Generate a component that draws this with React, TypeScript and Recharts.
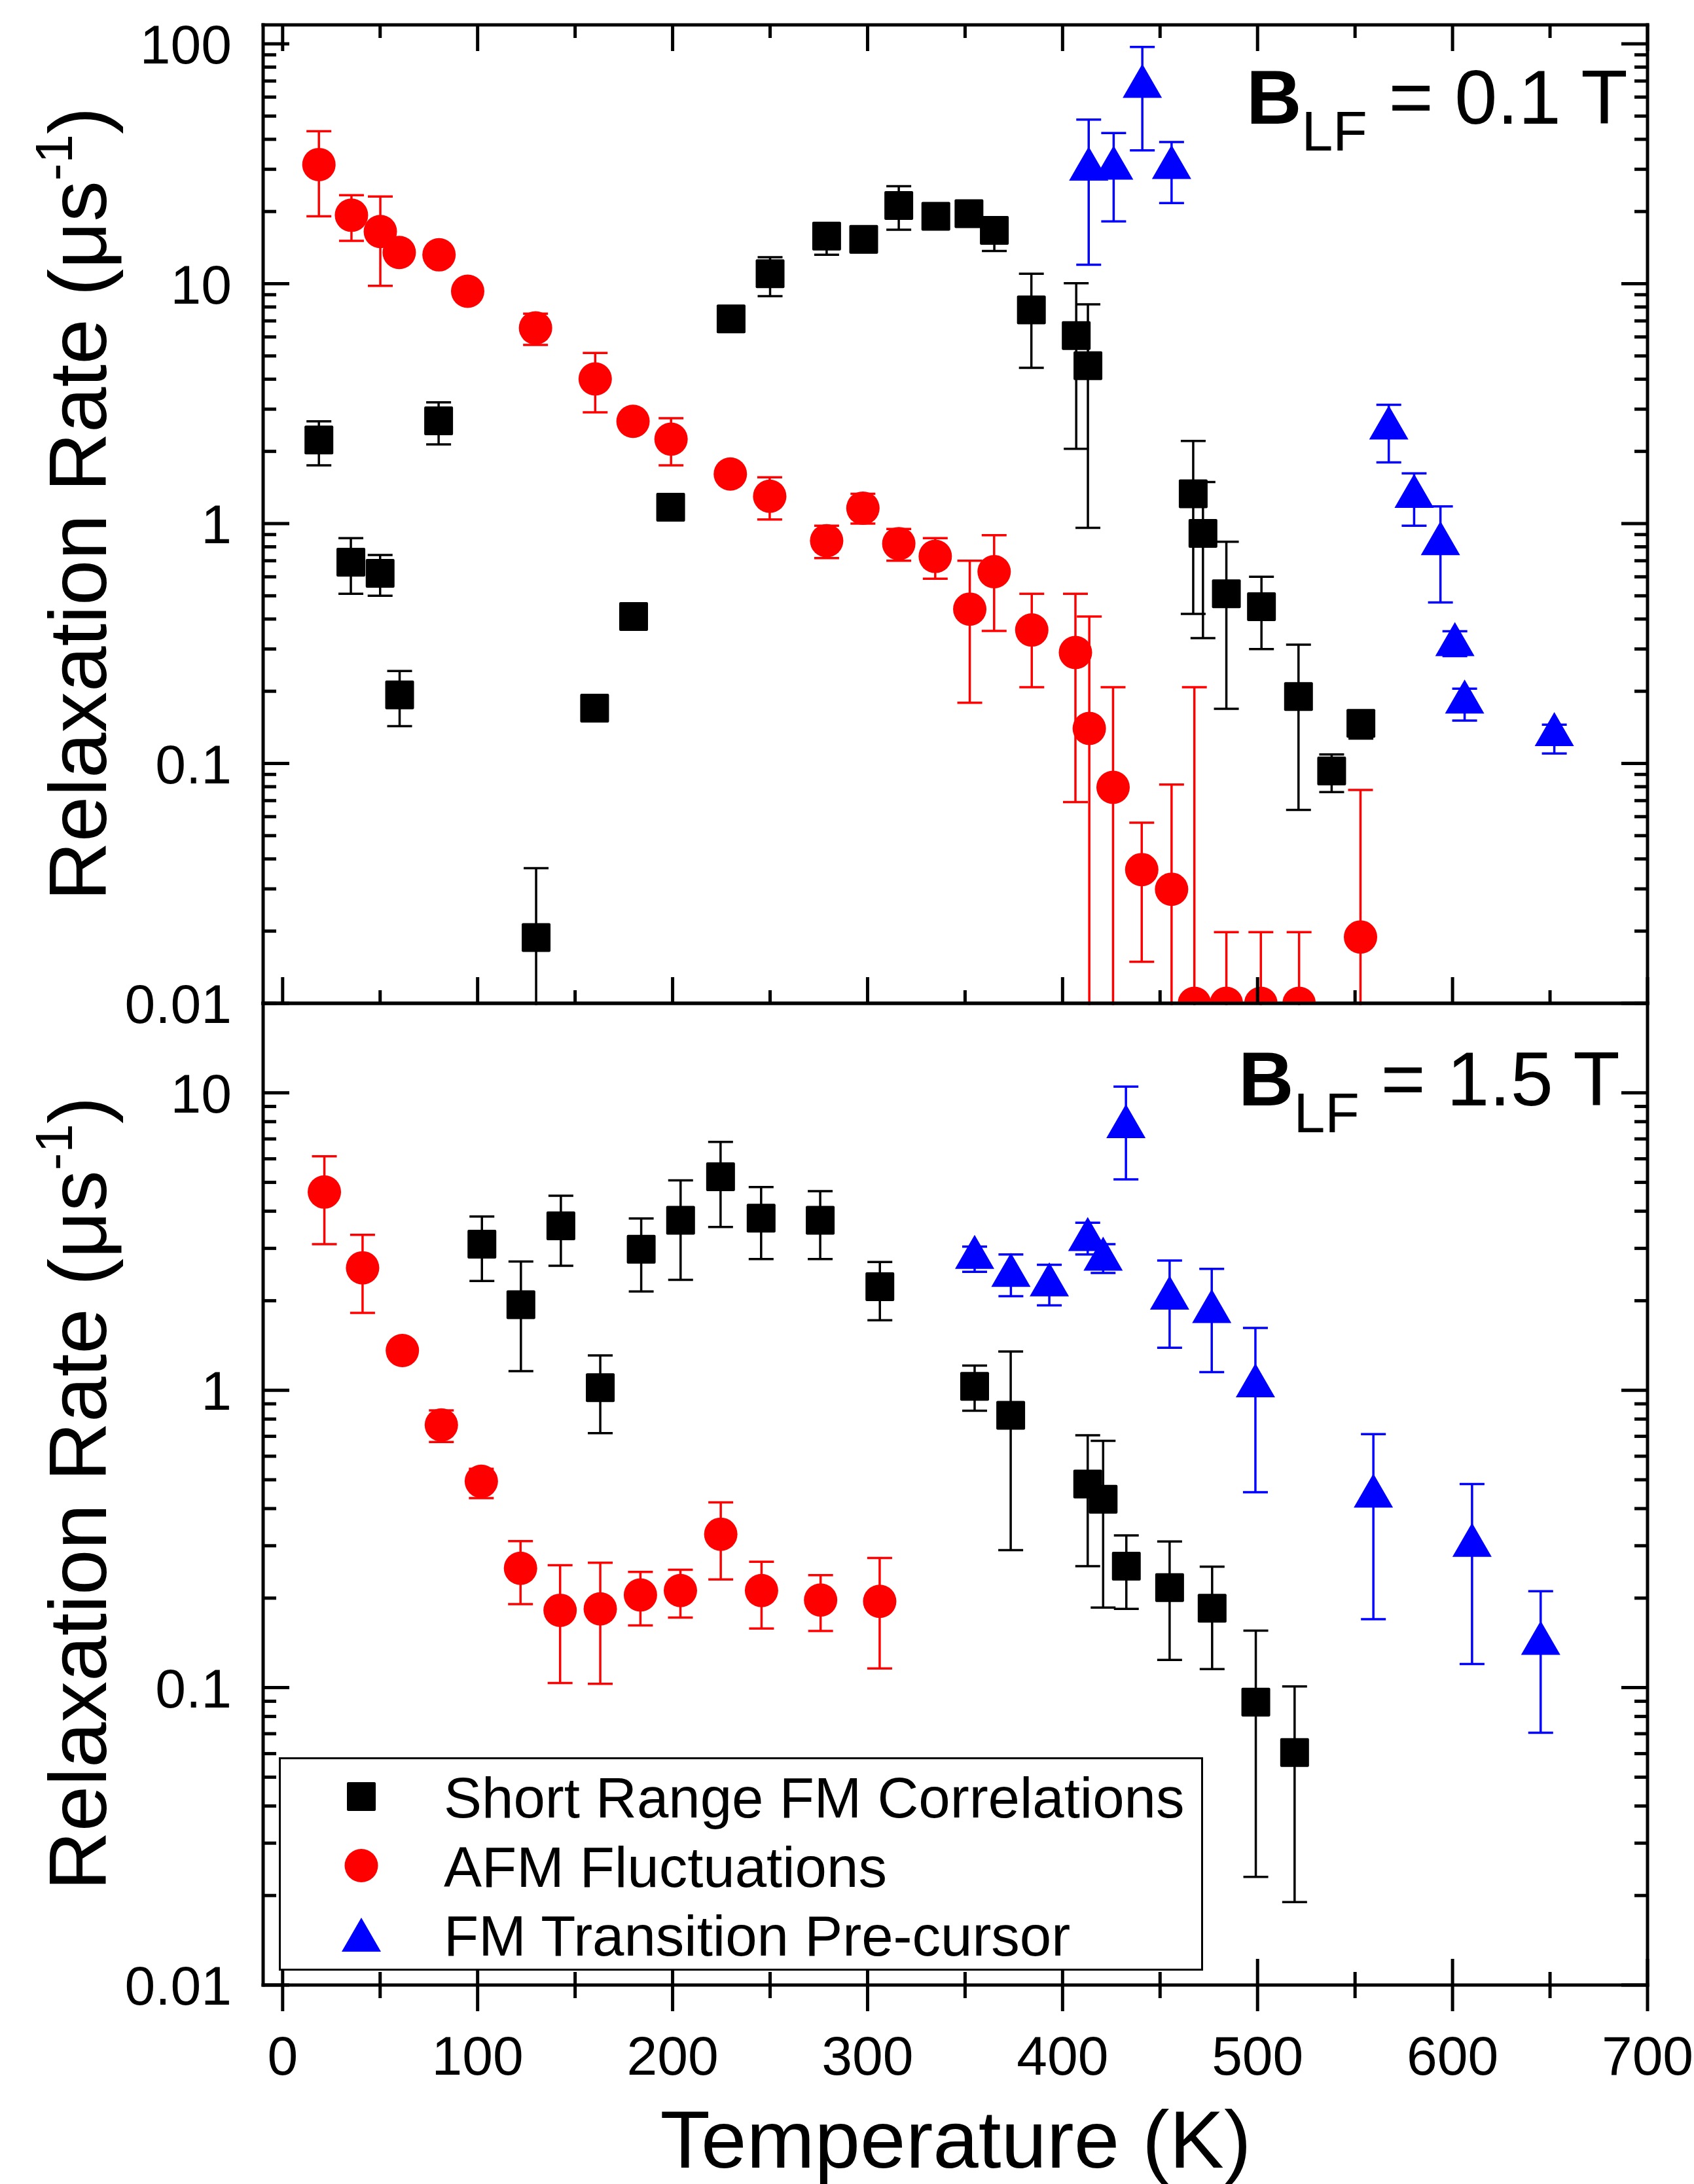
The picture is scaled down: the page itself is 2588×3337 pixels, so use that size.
import React from "react";
import { ErrorBar, Legend, Scatter, ScatterChart, XAxis, YAxis } from "recharts";

// muSR relaxation rates vs temperature, two LF fields stacked (0.1 T on top, 1.5 T below)
const FONT = "'Liberation Sans', Arial, Helvetica, sans-serif";
const RED = "#ff0000";
const BLUE = "#0000ff";
const BLACK = "#000000";

const W = 2588;
const H = 3337;
const PLOT_L = 402;
const PLOT_R = 2517;
const TOP_Y0 = 38;
const MID_Y = 1533;
const BOT_Y1 = 3033;

const xMajor = [0, 100, 200, 300, 400, 500, 600, 700];
const xMinor = [50, 150, 250, 350, 450, 550, 650];
const topDecades = [0.01, 0.1, 1, 10, 100];
const botDecades = [0.01, 0.1, 1, 10];
const NAMES = ["Short Range FM Correlations", "AFM Fluctuations", "FM Transition Pre-cursor"];

// ---- B_LF = 0.1 T ----
const srT1 = [18.6, 35, 50, 60, 80, 130, 160, 180, 199, 230, 250, 279, 298, 316, 335, 352, 365, 384, 407, 413, 467, 472, 484, 502, 521, 538, 553];
const srV1 = [2.23, 0.69, 0.62, 0.193, 2.68, 0.0188, 0.17, 0.41, 1.17, 7.14, 11.0, 15.8, 15.3, 21.2, 19.1, 19.6, 16.7, 7.78, 6.08, 4.55, 1.33, 0.91, 0.51, 0.45, 0.19, 0.093, 0.147];
const srLo1 = [1.75, 0.51, 0.5, 0.143, 2.14, 0.001, 0.17, 0.41, 1.17, 7.14, 8.87, 13.2, 15.3, 16.8, 19.1, 19.6, 13.7, 4.46, 2.05, 0.96, 0.42, 0.333, 0.169, 0.3, 0.064, 0.076, 0.127];
const srHi1 = [2.67, 0.87, 0.74, 0.243, 3.2, 0.0366, 0.17, 0.41, 1.17, 7.14, 12.9, 16.5, 15.3, 25.5, 19.1, 19.6, 17.5, 11.0, 10.05, 8.2, 2.21, 1.49, 0.84, 0.6, 0.313, 0.109, 0.152];

const afT1 = [18.6, 35.3, 50.1, 59.8, 80.2, 94.9, 129.7, 160.3, 179.7, 199.2, 229.6, 249.8, 279, 297.6, 316, 334.7, 352.4, 364.9, 384.2, 406.6, 413.7, 425.9, 440.6, 455.9, 467.6, 484, 501.7, 521.3, 552.8];
const afV1 = [31.4, 19.3, 16.5, 13.5, 13.2, 9.3, 6.54, 4.01, 2.67, 2.25, 1.61, 1.3, 0.848, 1.16, 0.825, 0.73, 0.44, 0.63, 0.36, 0.29, 0.14, 0.0795, 0.0361, 0.0299, 0.01, 0.01, 0.01, 0.01, 0.0189];
const afLo1 = [19.1, 15.1, 9.8, 13.5, 13.2, 9.3, 5.56, 2.91, 2.67, 1.75, 1.61, 1.04, 0.718, 1.0, 0.7, 0.589, 0.179, 0.357, 0.208, 0.069, 0.001, 0.001, 0.0149, 0.001, 0.001, 0.001, 0.001, 0.001, 0.001];
const afHi1 = [43.2, 23.4, 23.1, 13.5, 13.2, 9.3, 7.5, 5.15, 2.67, 2.75, 1.61, 1.56, 0.98, 1.33, 0.95, 0.87, 0.7, 0.895, 0.51, 0.51, 0.41, 0.208, 0.0566, 0.0817, 0.208, 0.0198, 0.0198, 0.0198, 0.0775];

const fmT1 = [413.4, 426.2, 440.9, 455.9, 567.3, 580.3, 593.8, 601.2, 606.2, 652.2];
const fmV1 = [31.7, 32, 70.1, 32.2, 2.64, 1.37, 0.87, 0.33, 0.19, 0.139];
const fmLo1 = [12.0, 18.2, 36, 21.7, 1.8, 0.98, 0.469, 0.28, 0.151, 0.11];
const fmHi1 = [48.3, 42.5, 97, 39, 3.13, 1.62, 1.18, 0.356, 0.205, 0.145];

// ---- B_LF = 1.5 T ----
const srT2 = [102.2, 122.2, 142.7, 162.9, 183.9, 204.1, 224.6, 245.4, 275.7, 306.3, 354.9, 373.4, 412.9, 420.8, 432.7, 454.9, 476.7, 499.1, 519];
const srV2 = [3.1, 1.94, 3.57, 1.02, 2.98, 3.73, 5.22, 3.79, 3.73, 2.23, 1.03, 0.824, 0.484, 0.43, 0.256, 0.217, 0.185, 0.0894, 0.0605];
const srLo2 = [2.33, 1.16, 2.62, 0.717, 2.15, 2.35, 3.54, 2.76, 2.76, 1.72, 0.853, 0.29, 0.256, 0.186, 0.184, 0.124, 0.1155, 0.0231, 0.019];
const srHi2 = [3.84, 2.71, 4.51, 1.31, 3.78, 5.08, 6.84, 4.82, 4.67, 2.7, 1.21, 1.35, 0.706, 0.676, 0.325, 0.31, 0.255, 0.1555, 0.101];

const afT2 = [21.4, 41, 61.4, 81.4, 101.9, 122, 142.3, 162.9, 183.5, 204, 224.7, 245.6, 275.9, 306.2];
const afV2 = [4.64, 2.58, 1.36, 0.764, 0.494, 0.252, 0.182, 0.184, 0.205, 0.212, 0.328, 0.212, 0.197, 0.195];
const afLo2 = [3.1, 1.82, 1.36, 0.67, 0.434, 0.191, 0.1036, 0.103, 0.162, 0.172, 0.231, 0.158, 0.155, 0.116];
const afHi2 = [6.12, 3.33, 1.36, 0.855, 0.544, 0.311, 0.258, 0.263, 0.245, 0.249, 0.42, 0.265, 0.239, 0.273];

const fmT2 = [354.9, 373.5, 393.2, 412.9, 420.8, 432.5, 454.9, 476.5, 498.9, 559.4, 610, 645.2];
const fmV2 = [2.92, 2.54, 2.36, 3.35, 2.88, 8.03, 2.13, 1.92, 1.08, 0.46, 0.314, 0.147];
const fmLo2 = [2.5, 2.07, 1.93, 2.86, 2.48, 5.12, 1.39, 1.15, 0.454, 0.17, 0.12, 0.0705];
const fmHi2 = [3.04, 2.86, 2.64, 3.66, 3.1, 10.5, 2.73, 2.56, 1.62, 0.712, 0.484, 0.211];

type Pt = { t: number; v: number; err: [number, number] };
const pts = (t: number[], v: number[], lo: number[], hi: number[]): Pt[] =>
  t.map((x, i) => ({ t: x, v: v[i], err: [v[i] - lo[i], hi[i] - v[i]] }));

// log axis ticks: decades plus 2..9 minors
function logTicks(decades: number[], max: number) {
  const out: number[] = [];
  decades.forEach((d) => {
    out.push(d);
    for (let k = 2; k <= 9; k++) if (d * k <= max * 1.0001) out.push(+(d * k).toPrecision(3));
  });
  return out;
}
const xTicks = [...xMajor, ...xMinor].sort((a, b) => a - b);
const topTicks = logTicks(topDecades, 120);
const botTicks = logTicks(botDecades, 20);

const isDecade = (v: number) => Math.abs(Math.log10(v) - Math.round(Math.log10(v))) < 1e-6;
const logLabel = (v: number) => (v >= 1 ? String(Math.round(v)) : String(+v.toPrecision(1)));
const AXIS = { stroke: BLACK, strokeWidth: 5, strokeLinecap: "square" as const };
const TK = 5;

function YLeftTick({ x, y, payload }: any) {
  const major = isDecade(payload.value);
  return (
    <g>
      <line x1={x} x2={x + (major ? 40 : 20)} y1={y} y2={y} stroke={BLACK} strokeWidth={TK} />
      {major && (
        <text x={x - 48} y={y} dy="0.36em" textAnchor="end" fontSize={84} fontFamily={FONT} fill={BLACK}>
          {logLabel(payload.value)}
        </text>
      )}
    </g>
  );
}
function YRightTick({ x, y, payload }: any) {
  const major = isDecade(payload.value);
  return <line x1={x} x2={x - (major ? 40 : 20)} y1={y} y2={y} stroke={BLACK} strokeWidth={TK} />;
}
function XDownTick({ x, y, payload }: any) {
  const major = payload.value % 100 === 0;
  return <line x1={x} x2={x} y1={y} y2={y + (major ? 40 : 20)} stroke={BLACK} strokeWidth={TK} />;
}
function XUpTick({ x, y, payload }: any) {
  const major = payload.value % 100 === 0;
  return <line x1={x} x2={x} y1={y} y2={y - (major ? 40 : 20)} stroke={BLACK} strokeWidth={TK} />;
}
function XCrossTick({ x, y, payload }: any) {
  const major = payload.value % 100 === 0;
  const len = major ? 40 : 20;
  return (
    <g>
      <line x1={x} x2={x} y1={y - len} y2={y + len} stroke={BLACK} strokeWidth={TK} />
      {major && (
        <text x={x} y={y + 137} textAnchor="middle" fontSize={84} fontFamily={FONT} fill={BLACK}>
          {payload.value}
        </text>
      )}
    </g>
  );
}

const Square = (p: any) => <rect x={p.cx - 22} y={p.cy - 22} width={44} height={44} rx={2} fill={BLACK} />;
const Dot = (p: any) => <circle cx={p.cx} cy={p.cy} r={25.5} fill={RED} />;
const Tri = (p: any) => (
  <polygon points={`${p.cx},${p.cy - 26} ${p.cx + 30},${p.cy + 26} ${p.cx - 30},${p.cy + 26}`} fill={BLUE} />
);
const NoMark = () => <g />;

function LegendBox({ payload }: any) {
  const rows = ((payload ?? []) as any[])
    .filter((r) => NAMES.includes(r.value))
    .sort((a, b) => NAMES.indexOf(a.value) - NAMES.indexOf(b.value));
  return (
    <svg width={1412} height={326} style={{ display: "block" }}>
      <rect x={1.5} y={1.5} width={1409} height={323} fill="#fff" stroke={BLACK} strokeWidth={3} />
      {rows.map((r, i) => {
        const cy = 60 + i * 105.5;
        const cx = 126;
        const idx = NAMES.indexOf(r.value);
        const mark =
          idx === 0 ? <Square cx={cx} cy={cy} /> : idx === 1 ? <Dot cx={cx} cy={cy} /> : <Tri cx={cx} cy={cy} />;
        return (
          <g key={r.value}>
            {mark}
            <text x={252} y={cy + 32} fontSize={87} fontFamily={FONT} fill={BLACK}>
              {r.value}
            </text>
          </g>
        );
      })}
    </svg>
  );
}

function Panel({ top, height, yDomain, yTicks, sets, legend, bottomAxis }: any) {
  const xHeight = height - (bottomAxis ? BOT_Y1 : MID_Y);
  return (
    <div style={{ position: "absolute", left: 0, top: 0 }}>
      <ScatterChart width={W} height={height} margin={{ top: top - 1, right: W - PLOT_R - 1, bottom: 0, left: 0 }}>
        <XAxis
          xAxisId="x"
          dataKey="t"
          type="number"
          domain={[-10, 700]}
          ticks={xTicks}
          interval={0}
          allowDataOverflow
          height={xHeight}
          tickLine={false}
          tickSize={0}
          tickMargin={0}
          axisLine={AXIS}
          tick={bottomAxis ? XCrossTick : XUpTick}
        />
        <XAxis
          xAxisId="xt"
          dataKey="t"
          orientation="top"
          type="number"
          domain={[-10, 700]}
          ticks={xTicks}
          interval={0}
          allowDataOverflow
          height={1}
          tickLine={false}
          tickSize={0}
          tickMargin={0}
          axisLine={AXIS}
          tick={bottomAxis ? false : XDownTick}
        />
        <YAxis
          yAxisId="y"
          dataKey="v"
          type="number"
          scale="log"
          domain={yDomain}
          ticks={yTicks}
          interval={0}
          allowDataOverflow
          width={PLOT_L}
          tickLine={false}
          tickSize={0}
          tickMargin={0}
          axisLine={AXIS}
          tick={YLeftTick}
        />
        <YAxis
          yAxisId="yr"
          dataKey="v"
          orientation="right"
          type="number"
          scale="log"
          domain={yDomain}
          ticks={yTicks}
          interval={0}
          allowDataOverflow
          width={1}
          tickLine={false}
          tickSize={0}
          tickMargin={0}
          axisLine={AXIS}
          tick={YRightTick}
        />
        {/* invisible series so the mirrored frame axes are registered */}
        <Scatter
          name="frame"
          data={sets[0].data}
          xAxisId="xt"
          yAxisId="yr"
          shape={NoMark}
          legendType="none"
          isAnimationActive={false}
        />
        {sets.map((s: any) => (
          <Scatter
            key={s.name}
            name={s.name}
            data={s.data}
            xAxisId="x"
            yAxisId="y"
            fill={s.color}
            shape={s.shape}
            isAnimationActive={false}
          >
            <ErrorBar dataKey="err" direction="y" width={19} stroke={s.color} strokeWidth={3.5} isAnimationActive={false} />
          </Scatter>
        ))}
        {legend && (
          <Legend
            layout="vertical"
            align="center"
            verticalAlign="middle"
            wrapperStyle={{ left: 426, top: 2685, width: 1412, height: 326 }}
            content={LegendBox}
          />
        )}
      </ScatterChart>
    </div>
  );
}

function YTitle({ x, y }: { x: number; y: number }) {
  return (
    <text x={x} y={y} transform={`rotate(-90 ${x} ${y})`} textAnchor="middle" fontSize={125} fontFamily={FONT} fill={BLACK}>
      Relaxation Rate (μs
      <tspan fontSize={80} dy={-52}>
        -1
      </tspan>
      <tspan dy={52}>)</tspan>
    </text>
  );
}

function FieldLabel({ x, y, val }: { x: number; y: number; val: string }) {
  return (
    <text x={x} y={y} fontSize={117} fontFamily={FONT} fill={BLACK}>
      <tspan fontWeight="bold">B</tspan>
      <tspan fontSize={86} dy={41}>
        LF
      </tspan>
      <tspan dy={-41}>{` = ${val} T`}</tspan>
    </text>
  );
}

export default function App() {
  const topSets = [
    { name: NAMES[0], data: pts(srT1, srV1, srLo1, srHi1), color: BLACK, shape: Square },
    { name: NAMES[1], data: pts(afT1, afV1, afLo1, afHi1), color: RED, shape: Dot },
    { name: NAMES[2], data: pts(fmT1, fmV1, fmLo1, fmHi1), color: BLUE, shape: Tri },
  ];
  const botSets = [
    { name: NAMES[0], data: pts(srT2, srV2, srLo2, srHi2), color: BLACK, shape: Square },
    { name: NAMES[1], data: pts(afT2, afV2, afLo2, afHi2), color: RED, shape: Dot },
    { name: NAMES[2], data: pts(fmT2, fmV2, fmLo2, fmHi2), color: BLUE, shape: Tri },
  ];
  return (
    <div style={{ position: "absolute", left: 0, top: 0, width: W, height: H, background: "#fff", fontFamily: FONT }}>
      <Panel top={TOP_Y0} height={MID_Y + 60} yDomain={[0.01, 120]} yTicks={topTicks} sets={topSets} />
      {/* top-panel error bars that run off the 0.01 axis stop at the panel edge */}
      <div
        style={{
          position: "absolute",
          left: PLOT_L + 3,
          top: MID_Y + 3,
          width: PLOT_R - PLOT_L - 6,
          height: BOT_Y1 - MID_Y - 6,
          background: "#fff",
        }}
      />
      <Panel top={MID_Y} height={H} yDomain={[0.01, 20]} yTicks={botTicks} sets={botSets} legend bottomAxis />
      <svg width={W} height={H} style={{ position: "absolute", left: 0, top: 0, pointerEvents: "none" }}>
        <YTitle x={162} y={770} />
        <YTitle x={162} y={2282} />
        <text x={1460} y={3312} textAnchor="middle" fontSize={125} fontFamily={FONT} fill={BLACK}>
          Temperature (K)
        </text>
        <FieldLabel x={1904} y={189} val="0.1" />
        <FieldLabel x={1892} y={1689} val="1.5" />
      </svg>
    </div>
  );
}
